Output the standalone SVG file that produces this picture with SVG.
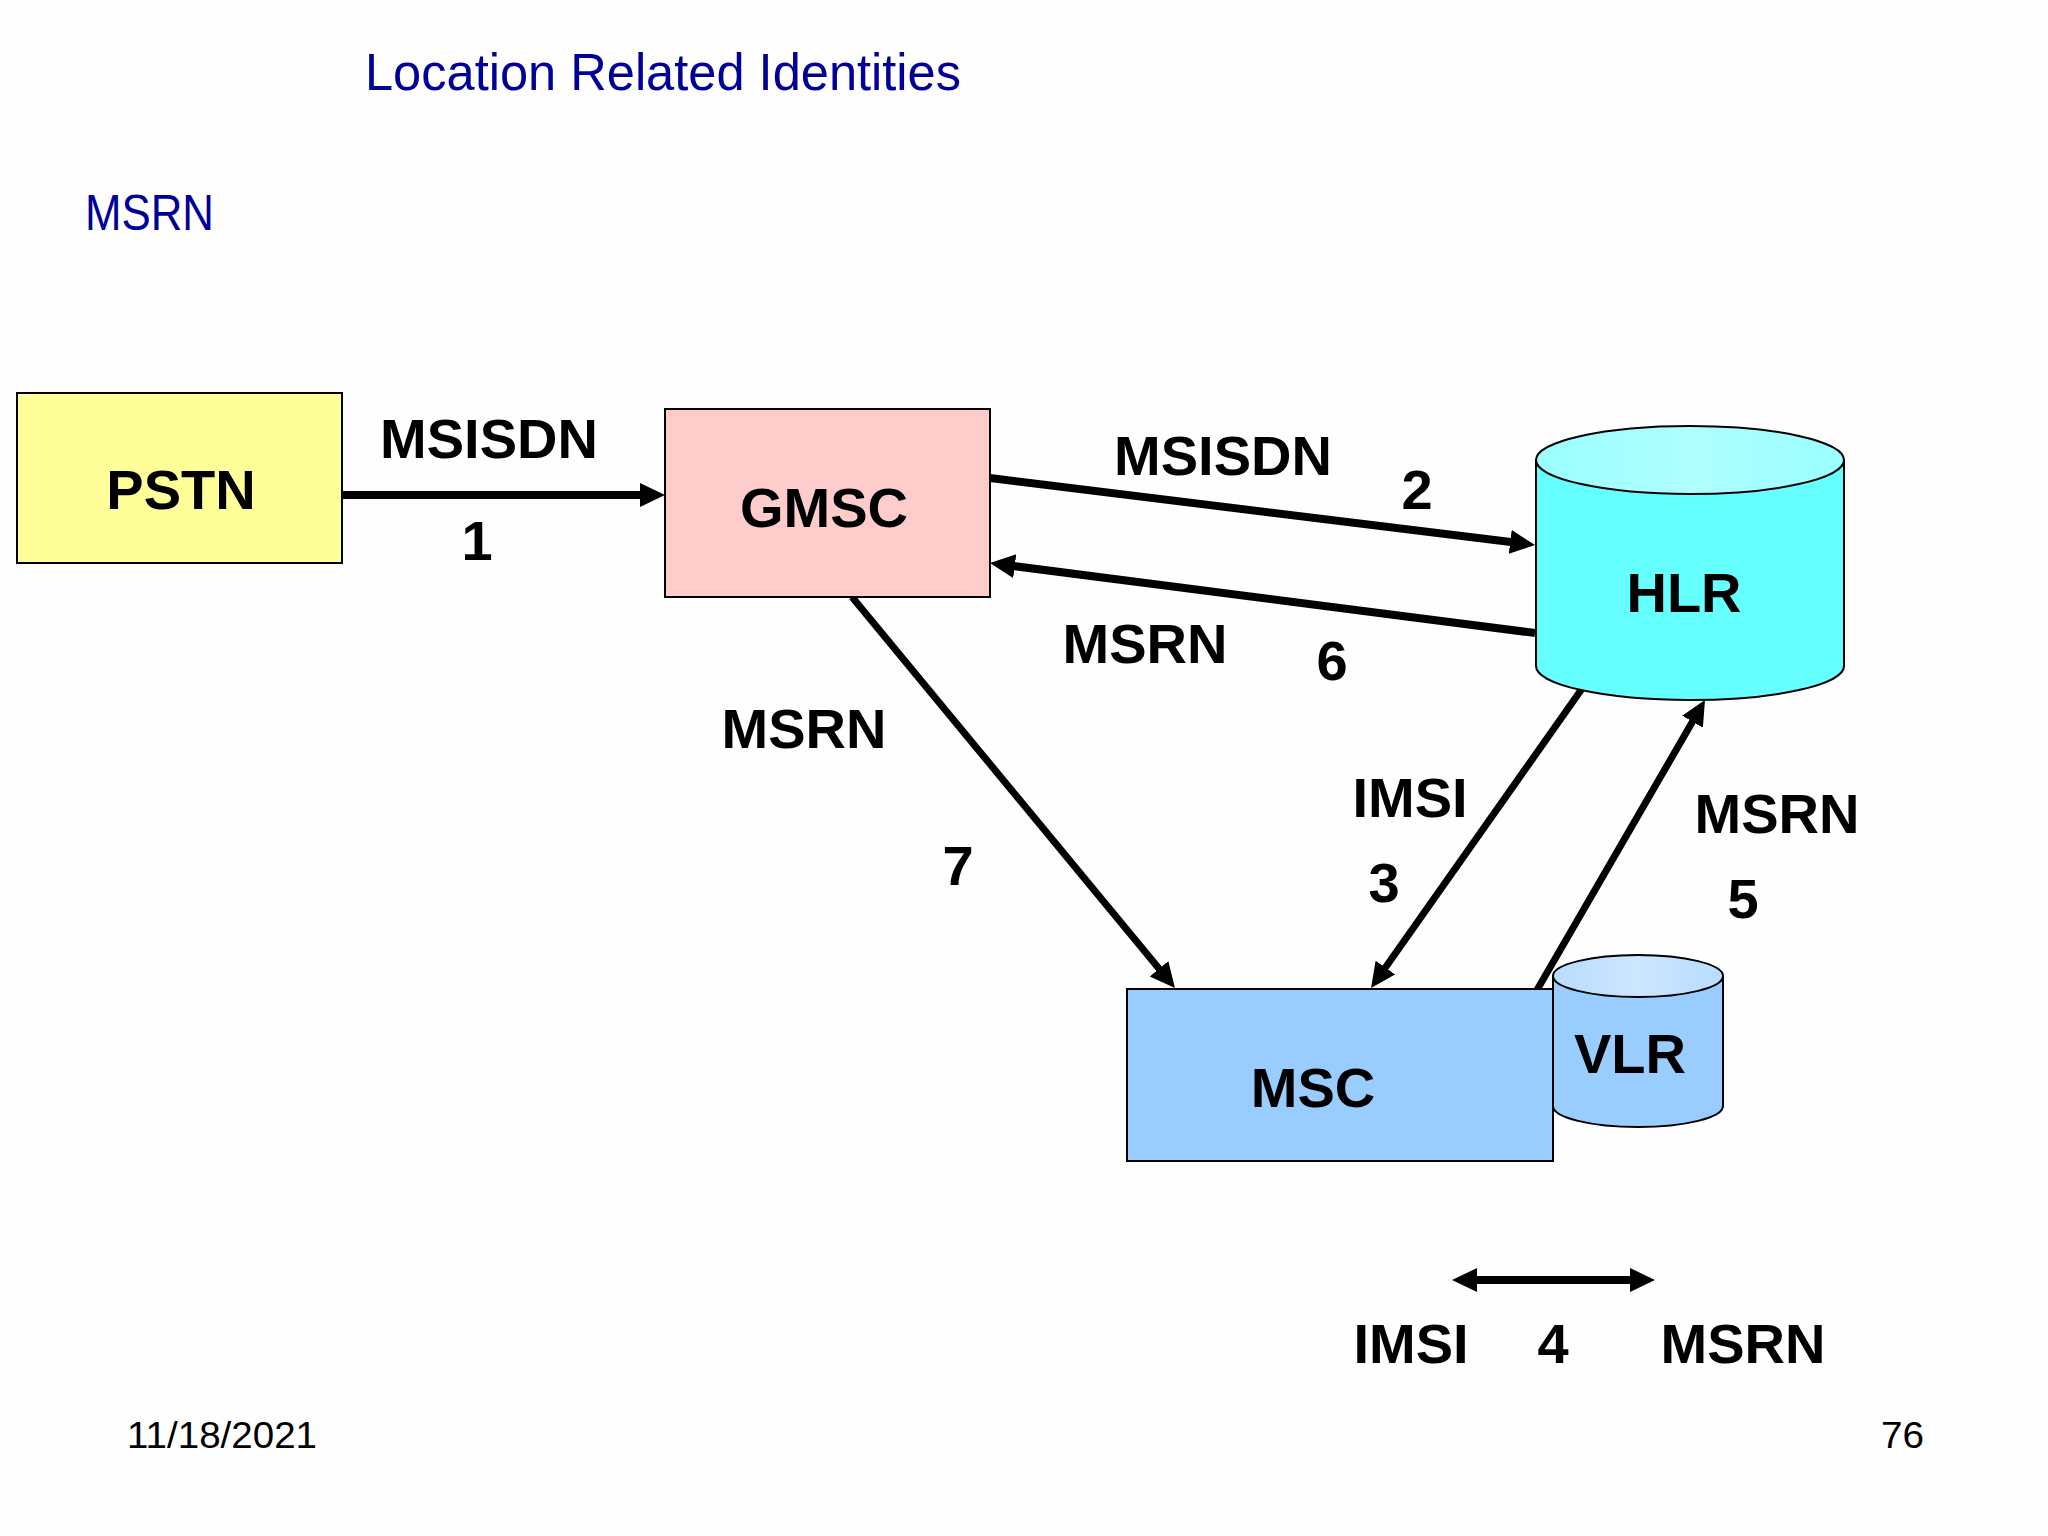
<svg xmlns="http://www.w3.org/2000/svg" width="2048" height="1536" viewBox="0 0 2048 1536">
<style>
.lbl{font-family:"Liberation Sans",Arial,sans-serif;font-weight:bold;font-size:56px;fill:#000;text-anchor:middle}
.ttl{font-family:"Liberation Sans",Arial,sans-serif;fill:#000099}
.ftr{font-family:"Liberation Sans",Arial,sans-serif;font-size:37px;fill:#000}
.box{stroke:#000;stroke-width:2}
.con{stroke:#000;fill:none}
</style>
<defs>
<marker id="ah" markerUnits="userSpaceOnUse" markerWidth="26" markerHeight="26" viewBox="0 0 26 26" refX="15" refY="12" orient="auto-start-reverse">
<path d="M0,0 L25,12 L0,24 Z" fill="#000"/>
</marker>
<linearGradient id="hlrTop" x1="0" y1="0" x2="1" y2="0">
<stop offset="0" stop-color="#99FFFF"/><stop offset="0.5" stop-color="#B0FFFF"/><stop offset="1" stop-color="#99FFFF"/>
</linearGradient>
<linearGradient id="vlrTop" x1="0" y1="0" x2="1" y2="0">
<stop offset="0" stop-color="#B8DCFF"/><stop offset="0.5" stop-color="#CCE6FF"/><stop offset="1" stop-color="#B8DCFF"/>
</linearGradient>
</defs>
<rect width="2048" height="1536" fill="#FEFEFE"/>
<text class="ttl" x="365" y="90" font-size="52" textLength="596" lengthAdjust="spacingAndGlyphs">Location Related Identities</text>
<text class="ttl" x="85" y="230" font-size="50" textLength="129" lengthAdjust="spacingAndGlyphs">MSRN</text>

<g id="connectors">
<line class="con" stroke-width="8" x1="342" y1="495" x2="655" y2="495" marker-end="url(#ah)"/>
<line class="con" stroke-width="8" x1="990" y1="478" x2="1525.1" y2="543.8" marker-end="url(#ah)"/>
<line class="con" stroke-width="8" x1="1535" y1="633" x2="999.9" y2="564.3" marker-end="url(#ah)"/>
<line class="con" stroke-width="7" x1="852" y1="597" x2="1168.6" y2="980.3" marker-end="url(#ah)"/>
<line class="con" stroke-width="7" x1="1586" y1="683" x2="1376.8" y2="979.8" marker-end="url(#ah)"/>
<line class="con" stroke-width="7" x1="1537" y1="990" x2="1700.0" y2="708.7" marker-end="url(#ah)"/>
<line class="con" stroke-width="8" x1="1462" y1="1280" x2="1645" y2="1280" marker-start="url(#ah)" marker-end="url(#ah)"/>
</g>

<g id="pstn">
<rect class="box" x="17" y="393" width="325" height="170" fill="#FFFF99"/>
<text class="lbl" x="181" y="509">PSTN</text>
</g>
<g id="gmsc">
<rect class="box" x="665" y="409" width="325" height="188" fill="#FFCCCC"/>
<text class="lbl" x="824" y="527">GMSC</text>
</g>
<g id="hlr">
<path class="box" d="M1536,460 L1536,666 A154,34 0 0 0 1844,666 L1844,460 Z" fill="#66FFFF"/>
<ellipse class="box" cx="1690" cy="460" rx="154" ry="34" fill="url(#hlrTop)"/>
<text class="lbl" x="1684" y="612">HLR</text>
</g>
<g id="msc">
<rect class="box" x="1127" y="989" width="426" height="172" fill="#99CCFF"/>
<text class="lbl" x="1313" y="1107">MSC</text>
</g>
<g id="vlr">
<path class="box" d="M1553,976 L1553,1106 A85,21 0 0 0 1723,1106 L1723,976 Z" fill="#99CCFF"/>
<ellipse class="box" cx="1638" cy="976" rx="85" ry="21" fill="url(#vlrTop)"/>
<text class="lbl" x="1630" y="1073">VLR</text>
</g>

<g id="labels">
<text class="lbl" x="489" y="458">MSISDN</text>
<text class="lbl" x="477" y="560">1</text>
<text class="lbl" x="1223" y="475">MSISDN</text>
<text class="lbl" x="1417" y="509">2</text>
<text class="lbl" x="1145" y="663">MSRN</text>
<text class="lbl" x="1332" y="680">6</text>
<text class="lbl" x="804" y="748">MSRN</text>
<text class="lbl" x="958" y="885">7</text>
<text class="lbl" x="1410" y="817">IMSI</text>
<text class="lbl" x="1384" y="902">3</text>
<text class="lbl" x="1777" y="833">MSRN</text>
<text class="lbl" x="1743" y="918">5</text>
<text class="lbl" x="1411" y="1363">IMSI</text>
<text class="lbl" x="1553" y="1363">4</text>
<text class="lbl" x="1743" y="1363">MSRN</text>
</g>

<text class="ftr" x="127" y="1448" textLength="190" lengthAdjust="spacingAndGlyphs">11/18/2021</text>
<text class="ftr" x="1881" y="1448" textLength="43" lengthAdjust="spacingAndGlyphs">76</text>
</svg>
